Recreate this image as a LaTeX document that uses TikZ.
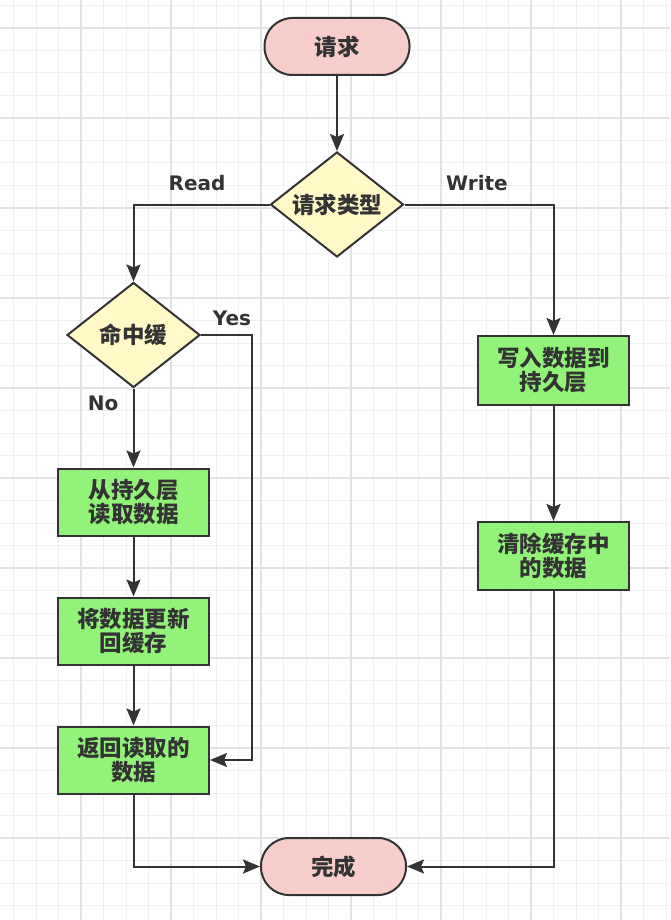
\documentclass[tikz,border=0pt]{standalone}
\usepackage{fontspec}
\setmainfont{Noto Sans CJK SC}
\newfontfamily\latinlbl{DejaVu Sans}
\usetikzlibrary{shapes.geometric,arrows.meta}
\definecolor{gridminor}{HTML}{F0F0F0}
\definecolor{gridmajor}{HTML}{E2E2E2}
\definecolor{ink}{HTML}{333333}
\definecolor{pinkfill}{HTML}{F8CECC}
\definecolor{yellowfill}{HTML}{FFFAC8}
\definecolor{greenfill}{HTML}{92F27A}
\tikzset{
  base/.style={draw=ink, line width=2pt, text=ink, font=\fontsize{22.5}{24}\selectfont\bfseries, align=center, inner sep=0pt},
  terminal/.style={base, fill=pinkfill, rounded corners=28pt, minimum width=145pt, minimum height=57pt},
  decision/.style={base, shape=diamond, fill=yellowfill, aspect=1.28, minimum width=133pt, minimum height=105pt},
  process/.style={base, fill=greenfill, minimum width=151pt, minimum height=67pt},
  conn/.style={draw=ink, line width=2pt},
  arr/.style={conn, -{Stealth[length=17pt,width=14pt,inset=3pt]}},
  lbl/.style={text=ink, font=\latinlbl\fontsize{20}{22}\selectfont\bfseries, inner sep=0pt}
}
\begin{document}
\begin{tikzpicture}[x=1pt,y=-1pt]
\useasboundingbox (0,0) rectangle (670,920);
\fill[white] (0,0) rectangle (670,920);
% grid
\foreach \i in {0,...,29} {
  \draw[gridminor, line width=1pt] ({13.5+22.5*\i},0) -- ({13.5+22.5*\i},920);
}
\foreach \i in {0,...,40} {
  \draw[gridminor, line width=1pt] (0,{5.5+22.5*\i}) -- (670,{5.5+22.5*\i});
}
\foreach \i in {0,...,7} {
  \draw[gridmajor, line width=1.2pt] ({81+90*\i},0) -- ({81+90*\i},920);
}
\foreach \i in {0,...,9} {
  \draw[gridmajor, line width=1.2pt] (0,{28+90*\i}) -- (670,{28+90*\i});
}
% nodes
\node[terminal] (start) at (337,46.5) {请求};
\node[decision] (type) at (337,204.5) {请求类型};
\node[decision] (hit) at (133.5,335) {命中缓};
\node[process] (read) at (133.5,502) {从持久层\\读取数据};
\node[process] (update) at (133.5,631) {将数据更新\\回缓存};
\node[process] (ret) at (133.5,760) {返回读取的\\数据};
\node[terminal] (done) at (333.5,866.5) {完成};
\node[process, minimum height=69pt] (write) at (553.5,370.5) {写入数据到\\持久层};
\node[process, minimum height=68pt] (clear) at (553.5,556) {清除缓存中\\的数据};
\coordinate (ycorner) at (252,335);
% connectors
\draw[arr] (start) -- (type);
\draw[arr] (type.west) -| (hit.north);
\draw[arr] (type.east) -| (write.north);
\draw[arr] (hit.south) -- (read.north);
\draw[arr] (read) -- (update);
\draw[arr] (update) -- (ret);
\draw[arr] (hit.east) -- (ycorner) |- (ret.east);
\draw[arr] (ret.south) |- (done.west);
\draw[arr] (write) -- (clear);
\draw[arr] (clear.south) |- (done.east);
% labels
\node[lbl] (lread) at (197,183.5) {Read};
\node[lbl] (lwrite) at (477,183.5) {Write};
\node[lbl] (lyes) at (232,318) {Yes};
\node[lbl] (lno) at (103,403) {No};
\end{tikzpicture}
\end{document}
